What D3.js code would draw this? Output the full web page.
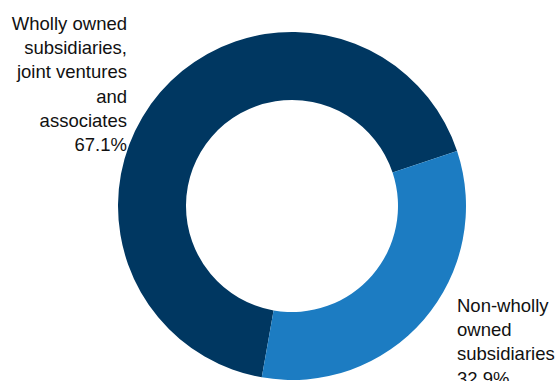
<!DOCTYPE html>
<html>
<head>
<meta charset="utf-8">
<script src="https://cdn.jsdelivr.net/npm/d3@7"></script>
<style>
  body { margin: 0; background: #fff; }
  svg { display: block; font-family: "Liberation Sans", Arial, sans-serif; }
</style>
</head>
<body>
<div id="chart"></div>
<script>
var categories = ["Wholly owned subsidiaries, joint ventures and associates", "Non-wholly owned subsidiaries"];
var values = [67.1, 32.9];
var colors = ["#003761", "#1c7cc2"];
var labelLines = [
    ["Wholly owned", "subsidiaries,", "joint ventures", "and", "associates", "67.1%"],
    ["Non-wholly", "owned", "subsidiaries", "32.9%"]
];

var w = 558, h = 381;
var cx = 292, cy = 206;
var outerR = 174, innerR = 106;

var svg = d3.select("#chart")
    .append("svg")
    .attr("width", w)
    .attr("height", h);

var data = categories.map(function (c, i) {
    return {name: c, value: values[i], color: colors[i], lines: labelLines[i]};
});

// pie starts at the dark slice, lower left
var start = 190 * Math.PI / 180;
var pie = d3.pie()
    .sort(null)
    .value(function (d) { return d.value; })
    .startAngle(start)
    .endAngle(start + 2 * Math.PI);

var arc = d3.arc()
    .innerRadius(innerR)
    .outerRadius(outerR);

var g = svg.append("g")
    .attr("transform", "translate(" + cx + "," + cy + ")");

g.selectAll("path")
    .data(pie(data))
    .enter()
    .append("path")
    .attr("d", arc)
    .attr("fill", function (d) { return d.data.color; });

// labels
var lineH = 24.2;

var left = svg.append("text")
    .attr("text-anchor", "end")
    .style("font-size", "18.5px")
    .attr("fill", "#111");
left.selectAll("tspan")
    .data(data[0].lines)
    .enter()
    .append("tspan")
    .attr("x", 127)
    .attr("y", function (d, i) { return 30 + i * lineH; })
    .text(function (d) { return d; });

var right = svg.append("text")
    .attr("text-anchor", "start")
    .style("font-size", "18.5px")
    .attr("fill", "#111");
right.selectAll("tspan")
    .data(data[1].lines)
    .enter()
    .append("tspan")
    .attr("x", 457)
    .attr("y", function (d, i) { return 312 + i * lineH; })
    .text(function (d) { return d; });
</script>
</body>
</html>
